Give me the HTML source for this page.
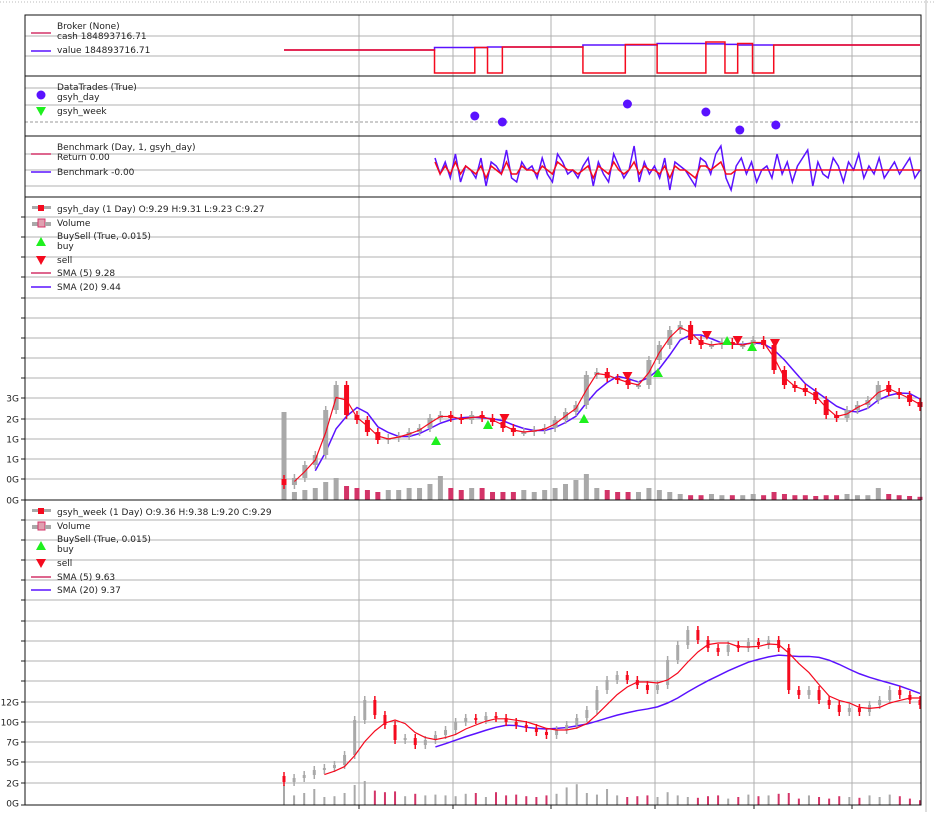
<!DOCTYPE html>
<html><head><meta charset="utf-8"><style>
html,body{margin:0;padding:0;background:#fff}
svg text{font-family:"DejaVu Sans","Liberation Sans",sans-serif;font-size:9px;fill:#222}
</style></head><body>
<svg id="c" width="935" height="812" xmlns="http://www.w3.org/2000/svg"></svg>
<script>
// ---- data ----
const dayClose=[3.75,4.1,4.75,5.25,7.5,8.75,7.25,7.0,6.4,6.0,6.1,6.2,6.4,6.6,7.1,7.25,7.1,7.0,7.25,7.1,6.9,6.6,6.4,6.4,6.5,6.6,7.0,7.4,7.75,9.25,9.4,9.1,9.0,8.75,8.75,10.0,10.75,11.5,11.75,11.0,10.75,10.75,10.9,10.75,10.75,11.0,10.75,9.5,8.75,8.6,8.4,8.0,7.25,7.1,7.5,7.75,8.0,8.75,8.4,8.25,7.9,7.65];
const dayVolume=[2.2,0.2,0.25,0.3,0.45,0.55,0.35,0.3,0.25,0.2,0.25,0.25,0.3,0.3,0.4,0.6,0.3,0.25,0.3,0.3,0.2,0.2,0.2,0.25,0.2,0.25,0.3,0.4,0.5,0.65,0.3,0.25,0.2,0.2,0.2,0.3,0.25,0.2,0.15,0.12,0.12,0.15,0.12,0.12,0.12,0.15,0.12,0.2,0.15,0.12,0.12,0.1,0.12,0.12,0.15,0.12,0.12,0.3,0.15,0.12,0.1,0.08];
const weekClose=[4.15,4.35,4.5,4.75,4.85,5.0,5.5,7.25,8.25,7.5,7.0,6.25,6.35,6.0,6.25,6.5,6.75,7.15,7.35,7.25,7.45,7.35,7.15,7.0,6.85,6.65,6.5,6.75,7.0,7.35,7.75,8.75,9.25,9.5,9.25,9.0,8.75,9.0,10.25,11.0,11.75,11.25,10.85,10.65,11.0,10.85,11.15,11.0,11.25,10.85,8.75,8.5,8.75,8.25,8.0,7.65,7.85,7.65,8.0,8.25,8.75,8.5,8.25,8.0];
const weekVolume=[2.5,1.2,1.5,2.0,1.0,1.1,1.5,2.5,3.0,1.8,1.6,1.7,1.1,1.4,1.2,1.3,1.2,1.1,1.4,1.5,1.0,1.6,1.2,1.3,1.1,1.0,1.2,1.4,2.2,2.6,1.5,1.3,2.0,1.2,1.0,1.1,1.2,1.0,1.6,1.2,1.0,0.9,1.1,1.2,0.8,1.0,1.3,1.1,1.2,1.4,1.5,0.8,1.2,1.0,0.8,1.1,1.0,0.9,1.2,1.0,1.3,1.1,0.8,0.6];
const brokerDays=[0,71,90,96,103,141,161,176,199,208,214,221,231,300];
const cashVals=[100,-291,142.5,-291,151,-291,193.5,-291,236,-291,210.5,-291,185,185];
const valueVals=[100,142.5,142.5,151,151,185,185,210,205,195,185,185,185,185];
const tradeDays=[90,103,162,199,215,232];
const tradePnl=[6,0,18,10,-8,-3];
const benchVals=[3,-1,2,-2,4,-3,1,0,-2,3,-4,2,1,-1,5,-2,-3,2,0,1,-2,3,-1,-3,4,2,-1,0,-2,1,3,-4,2,-1,-3,4,1,-2,0,6,-3,2,-1,1,-2,3,-5,2,1,0,-2,-4,3,2,-1,4,6,-2,-5,1,3,-1,2,-3,0,1,-2,4,-1,2,-3,1,3,5,-4,2,-1,-2,3,1,-3,2,0,4,-2,1,-1,3,-2,0,2,-1,1,3,-2,0];
const returnVals=[2,-1,1,-1,2,-1,1,0,-1,1,-2,1,0,-1,2,-1,-1,1,0,0,-1,1,0,-1,2,1,0,0,-1,0,1,-2,1,0,-1,2,0,-1,0,2,-1,1,0,0,-1,1,-2,1,0,0,-1,-2,1,1,0,1,2,-1,-1,0,0,0,0,0,0,0,0,0,0,0,0,0,0,0,0,0,0,0,0,0,0,0,0,0,0,0,0,0,0,0,0,0,0,0,0,0];
const buyDays=[71.7,96.2,141.5,176.4,209,220.8];
const buyPrice=[5.95,6.75,7.05,9.35,10.95,10.65];
const sellDays=[104,162,199.5,214,231.6];
const sellPrice=[7.1,9.2,11.25,11.0,10.85];
const dayAxisLabels=["3G","2G","1G","1G","0G","0G"];
const weekAxisLabels=["12G","10G","7G","5G","2G","0G"];

// ---- scales ----
const X0=284,X1=920,L=25,R=921;
const xDay=d=>X0+d*(X1-X0)/300;
const xIdx=(i,n)=>X0+i*(X1-X0)/(n-1);
const yDayP=p=>500-(p-3)*20, yWeekP=p=>805-(p-3)*20;
const yDayV=v=>500-v*40, yWeekV=v=>805-v*8;
const yBroker=v=>50-(v-100)/17;
const yTrade=v=>122-v;
const yBench=v=>170-v*4;
const RED="#f50a1e",BLUE="#5a12ff",GRAY="#a9a9a9",PINK="#d33468";
const svg=document.getElementById('c');
const NS="http://www.w3.org/2000/svg";
function el(t,a,p){const e=document.createElementNS(NS,t);for(const k in a)e.setAttribute(k,a[k]);(p||svg).appendChild(e);return e;}
function grp(name){const g=el('g',{});return g;}

el('line',{x1:0,y1:2,x2:935,y2:2,stroke:'#bbb','stroke-dasharray':'1,2'});
el('line',{x1:926,y1:0,x2:926,y2:812,stroke:'#bbb'});

const panels=[[15,76],[76,136],[136,197],[197,500],[500,805]];
const hgrid=[[36,56],[88,105],[154,170,186],[217,237,257,277,298,318,338,358,378,398,419,439,459,479],[520,540,560,580,600,621,641,661,681,702,722,742,762,783]];
const vgrid=[359,453,551,655,754,852];
const gg=grp('grid');
panels.forEach((p,k)=>{
  hgrid[k].forEach(y=>el('line',{x1:L,y1:y,x2:R,y2:y,stroke:'#b0b0b0','stroke-width':1},gg));
  vgrid.forEach(x=>el('line',{x1:x,y1:p[0],x2:x,y2:p[1],stroke:'#b0b0b0'},gg));
});
el('line',{x1:L,y1:122,x2:R,y2:122,stroke:'#999','stroke-dasharray':'3,2'},gg);
[hgrid[3].concat([500]),hgrid[4].concat([805])].forEach(a=>a.forEach(y=>el('line',{x1:21,y1:y,x2:L,y2:y,stroke:'#222'},gg)));
vgrid.forEach(x=>el('line',{x1:x,y1:805,x2:x,y2:809,stroke:'#222'},gg));

const gb=grp('broker-panel');
function stepPath(days,vals,ys){let d='';for(let i=0;i<days.length-1;i++){const y=ys(vals[i]);d+=(i?'L':'M')+xDay(days[i])+','+y+'L'+xDay(days[i+1])+','+y;}return d;}
el('path',{d:stepPath(brokerDays,valueVals,yBroker),fill:'none',stroke:BLUE,'stroke-width':1.5},gb);
el('path',{d:stepPath(brokerDays,cashVals,yBroker),fill:'none',stroke:RED,'stroke-width':1.5},gb);
const gt=grp('datatrades-panel');
tradeDays.forEach((d,i)=>{const c=el('circle',{cx:xDay(d),cy:yTrade(tradePnl[i]),r:4.5,fill:BLUE},gt);});
const gbm=grp('benchmark-panel');
const bx=i=>435+i*(920-435)/(benchVals.length-1);
el('path',{d:benchVals.map((v,i)=>(i?'L':'M')+bx(i)+','+yBench(v)).join(''),fill:'none',stroke:BLUE,'stroke-width':1.5},gbm);
el('path',{d:returnVals.map((v,i)=>(i?'L':'M')+bx(i)+','+yBench(v)).join(''),fill:'none',stroke:RED,'stroke-width':1.5},gbm);

function sma(a,n){return a.map((v,i)=>i<n-1?null:a.slice(i-n+1,i+1).reduce((s,x)=>s+x,0)/n);}
function linePath(arr,xf,yf){let d='',m=true;arr.forEach((v,i)=>{if(v==null)return;d+=(m?'M':'L')+xf(i)+','+yf(v);m=false;});return d;}
function ohlcPanel(name,close,vol,yP,yV,base,bw,vw,nFast,nSlow){
  const g=grp(name);const n=close.length;
  vol.forEach((v,i)=>{const up=i==0||close[i]>=close[i-1];const r=el('rect',{x:xIdx(i,n)-vw/2,y:yV(v),width:vw,height:base-yV(v),fill:up?GRAY:PINK},g);});
  el('path',{d:linePath(sma(close,nSlow),i=>xIdx(i,n),yP),fill:'none',stroke:BLUE,'stroke-width':1.5},g);
  close.forEach((c,i)=>{const o=i?close[i-1]:c+0.3;const up=c>=o;const x=xIdx(i,n);
    const hi=Math.max(o,c)+0.2,lo=Math.min(o,c)-0.2;
    el('line',{x1:x,y1:yP(hi),x2:x,y2:yP(lo),stroke:up?GRAY:RED,'stroke-width':1.5},g);
    const r=el('rect',{x:x-bw/2,y:yP(Math.max(o,c)),width:bw,height:Math.max(2,Math.abs(yP(o)-yP(c))),fill:up?GRAY:RED},g);
    });
  el('path',{d:linePath(sma(close,nFast),i=>xIdx(i,n),yP),fill:'none',stroke:RED,'stroke-width':1.2},g);
  return g;
}
const gd=ohlcPanel('day-price-panel',dayClose,dayVolume,yDayP,yDayV,500,5,5,2,4);
buyDays.forEach((d,i)=>{const x=xDay(d),y=yDayP(buyPrice[i]);const p=el('polygon',{points:`${x-5},${y+4} ${x+5},${y+4} ${x},${y-5}`,fill:'#1ef01e'},gd);});
sellDays.forEach((d,i)=>{const x=xDay(d),y=yDayP(sellPrice[i]);const p=el('polygon',{points:`${x-5},${y-4} ${x+5},${y-4} ${x},${y+5}`,fill:RED},gd);});
ohlcPanel('week-price-panel',weekClose,weekVolume,yWeekP,yWeekV,805,3,2,5,16);

const ga=grp('y-axis-labels');
[398,419,439,459,479,500].forEach((y,i)=>{const t=el('text',{x:19,y:y+3.5,'text-anchor':'end'},ga);t.textContent=dayAxisLabels[i];});
[702,722,742,762,783,803].forEach((y,i)=>{const t=el('text',{x:19,y:y+3.5,'text-anchor':'end'},ga);t.textContent=weekAxisLabels[i];});

panels.forEach(p=>{const r=el('rect',{x:L,y:p[0],width:R-L,height:p[1]-p[0],fill:'none',stroke:'#111','stroke-width':1});});

function leg(name,items){const g=grp(name);items.forEach(it=>{
  if(it.line)el('line',{x1:31,y1:it.ly,x2:51,y2:it.ly,stroke:it.line,'stroke-width':1.5},g);
  if(it.dot)el('circle',{cx:41,cy:it.ly,r:4.5,fill:it.dot},g);
  if(it.up)el('polygon',{points:`36,${it.ly+4} 46,${it.ly+4} 41,${it.ly-5}`,fill:'#1ef01e'},g);
  if(it.dn)el('polygon',{points:`36,${it.ly-4} 46,${it.ly-4} 41,${it.ly+5}`,fill:it.dn},g);
  if(it.ohlc){el('rect',{x:32,y:it.ly-3,width:6,height:3,fill:GRAY},g);el('rect',{x:38,y:it.ly-4,width:6,height:6,fill:RED},g);el('rect',{x:44,y:it.ly-3,width:7,height:3,fill:GRAY},g);}
  if(it.vol){el('rect',{x:32,y:it.ly-1,width:6,height:4,fill:GRAY},g);el('rect',{x:38,y:it.ly-4,width:7,height:8,fill:'#e0a0b0',stroke:PINK},g);el('rect',{x:45,y:it.ly-1,width:6,height:4,fill:GRAY},g);}
  it.t.forEach((s,j)=>{const t=el('text',{x:57,y:it.ty+j*10},g);t.textContent=s;});
});}
leg('broker-legend',[{line:PINK,ly:33,ty:29,t:['Broker (None)','cash 184893716.71']},{line:BLUE,ly:51,ty:53,t:['value 184893716.71']}]);
leg('datatrades-legend',[{dot:BLUE,ly:95,ty:90,t:['DataTrades (True)','gsyh_day']},{dn:'#1ef01e',ly:111,ty:114,t:['gsyh_week']}]);
leg('benchmark-legend',[{line:PINK,ly:154,ty:150,t:['Benchmark (Day, 1, gsyh_day)','Return 0.00']},{line:BLUE,ly:172,ty:175,t:['Benchmark -0.00']}]);
leg('day-legend',[{ohlc:1,ly:209,ty:212,t:['gsyh_day (1 Day) O:9.29 H:9.31 L:9.23 C:9.27']},{vol:1,ly:223,ty:226,t:['Volume']},{up:1,ly:242,ty:239,t:['BuySell (True, 0.015)',' buy']},{dn:RED,ly:260,ty:263,t:['sell']},{line:PINK,ly:273,ty:276,t:['SMA (5) 9.28']},{line:BLUE,ly:287,ty:290,t:['SMA (20) 9.44']}]);
leg('week-legend',[{ohlc:1,ly:512,ty:515,t:['gsyh_week (1 Day) O:9.36 H:9.38 L:9.20 C:9.29']},{vol:1,ly:526,ty:529,t:['Volume']},{up:1,ly:546,ty:542,t:['BuySell (True, 0.015)',' buy']},{dn:RED,ly:563,ty:566,t:['sell']},{line:PINK,ly:577,ty:580,t:['SMA (5) 9.63']},{line:BLUE,ly:590,ty:593,t:['SMA (20) 9.37']}]);
</script>
</body></html>
